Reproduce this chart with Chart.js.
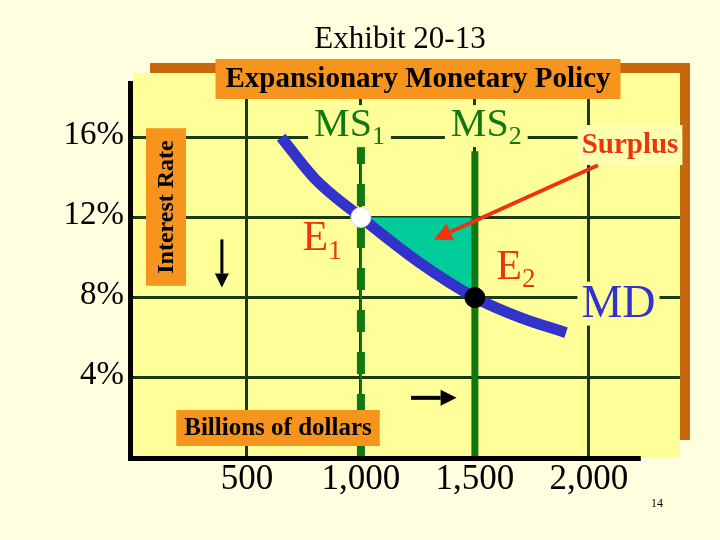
<!DOCTYPE html>
<html><head><meta charset="utf-8">
<script src="https://cdn.jsdelivr.net/npm/chart.js@4.4.0/dist/chart.umd.min.js"></script>
<style>html,body{margin:0;padding:0;background:#ffffe0}</style>
</head><body>
<canvas id="c" width="720" height="540" style="width:720px;height:540px"></canvas>
<script>
// values
const xTicks = [500, 1000, 1500, 2000];
const xTickLabels = ['500', '1,000', '1,500', '2,000'];
const yTicks = [4, 8, 12, 16];
const yTickLabels = ['4%', '8%', '12%', '16%'];
const mdX = [650, 800, 1000, 1250, 1500, 1700, 1900];
const mdY = [16, 13.9, 12, 9.8, 8, 7, 6.25];
const ms1X = [1000, 1000];
const ms1Y = [0, 15.6];
const ms2X = [1500, 1500];
const ms2Y = [0, 15.3];
const surplusX = [1000, 1500, 1500, 1250, 1000];
const surplusY = [12, 12, 8, 9.8, 12];
const e1 = {x: 1000, y: 12};
const e2 = {x: 1500, y: 8};

const pts = (xs, ys) => xs.map((x, i) => ({x: x, y: ys[i]}));
const serif = '"Liberation Serif", "DejaVu Serif", serif';

function subText(ctx, main, sub, x, y, size, color, bg) {
    ctx.font = size + 'px ' + serif;
    const w1 = ctx.measureText(main).width;
    ctx.font = Math.round(size * 0.65) + 'px ' + serif;
    const w2 = ctx.measureText(sub).width;
    const w = w1 + w2;
    if (bg) {
        ctx.fillStyle = bg;
        ctx.fillRect(x - w / 2 - 6, y - size * 0.5, w + 12, size * 1.05);
    }
    ctx.fillStyle = color;
    ctx.textAlign = 'left';
    ctx.textBaseline = 'middle';
    ctx.font = size + 'px ' + serif;
    ctx.fillText(main, x - w / 2, y);
    ctx.font = Math.round(size * 0.65) + 'px ' + serif;
    ctx.fillText(sub, x - w / 2 + w1, y + size * 0.3);
}

function arrow(ctx, x1, y1, x2, y2, color, lw, head) {
    const a = Math.atan2(y2 - y1, x2 - x1);
    ctx.strokeStyle = color; ctx.fillStyle = color; ctx.lineWidth = lw;
    ctx.beginPath();
    ctx.moveTo(x1, y1);
    ctx.lineTo(x2 - Math.cos(a) * head, y2 - Math.sin(a) * head);
    ctx.stroke();
    ctx.beginPath();
    ctx.moveTo(x2, y2);
    ctx.lineTo(x2 - Math.cos(a) * head + Math.sin(a) * head * 0.5, y2 - Math.sin(a) * head - Math.cos(a) * head * 0.5);
    ctx.lineTo(x2 - Math.cos(a) * head - Math.sin(a) * head * 0.5, y2 - Math.sin(a) * head + Math.cos(a) * head * 0.5);
    ctx.closePath();
    ctx.fill();
}

function boxText(ctx, text, x, y, font, color, bg, padX, h) {
    ctx.font = font;
    const w = ctx.measureText(text).width;
    ctx.fillStyle = bg;
    ctx.fillRect(x - w / 2 - padX, y - h / 2, w + padX * 2, h);
    ctx.fillStyle = color;
    ctx.textAlign = 'center';
    ctx.textBaseline = 'middle';
    ctx.fillText(text, x, y + 1);
}

const slide = {
    id: 'slide',
    beforeDraw(chart) {
        const ctx = chart.ctx, a = chart.chartArea;
        ctx.save();
        ctx.fillStyle = '#ffffe0';
        ctx.fillRect(0, 0, chart.width, chart.height);
        ctx.fillStyle = '#c8680c';
        ctx.fillRect(150, a.top - 10, a.right - 140, a.bottom - a.top - 8);
        ctx.fillStyle = '#ffff99';
        ctx.fillRect(a.left, a.top, a.right - a.left, a.bottom - a.top);
        ctx.restore();
    },
    afterDraw(chart) {
        const ctx = chart.ctx, a = chart.chartArea;
        const xs = chart.scales.x, ys = chart.scales.y;
        const X = v => xs.getPixelForValue(v), Y = v => ys.getPixelForValue(v);
        ctx.save();
        // axes
        ctx.fillStyle = '#000';
        ctx.fillRect(a.left - 5, a.top + 8, 5, a.bottom - a.top - 5);
        ctx.fillRect(a.left - 5, a.bottom - 2, X(2250) - a.left, 5);
        // title
        ctx.fillStyle = '#000';
        ctx.textAlign = 'center'; ctx.textBaseline = 'middle';
        ctx.font = '31px ' + serif;
        ctx.fillText('Exhibit 20-13', 400, 40);
        boxText(ctx, 'Expansionary Monetary Policy', 418, 79, 'bold 29px ' + serif, '#000', '#f7941d', 10, 40);
        boxText(ctx, 'Billions of dollars', 278, 428, 'bold 25px ' + serif, '#000', '#f7941d', 8, 36);
        // interest rate vertical
        ctx.save();
        ctx.translate(166, 207);
        ctx.rotate(-Math.PI / 2);
        boxText(ctx, 'Interest Rate', 0, 0, 'bold 24px ' + serif, '#000', '#f7941d', 12, 40);
        ctx.restore();
        // tick labels
        ctx.font = '33px ' + serif;
        ctx.fillStyle = '#000';
        ctx.textAlign = 'right'; ctx.textBaseline = 'middle';
        yTicks.forEach((v, i) => ctx.fillText(yTickLabels[i], 124, Y(v) - 2));
        ctx.textAlign = 'center'; ctx.textBaseline = 'top';
        ctx.font = '35px ' + serif;
        xTicks.forEach((v, i) => ctx.fillText(xTickLabels[i], X(v), a.bottom + 4));
        ctx.font = '12px ' + serif;
        ctx.fillText('14', 657, 498);
        // curve labels
        subText(ctx, 'MS', '1', X(950), Y(16.6), 40, '#117711', '#ffff99');
        subText(ctx, 'MS', '2', X(1550), Y(16.6), 40, '#117711', '#ffff99');
        boxText(ctx, 'Surplus', 630, 145, 'bold 29px ' + serif, '#ee3311', '#ffffb0', 4, 40);
        subText(ctx, 'E', '1', X(830), Y(10.9), 42, '#ee3311');
        subText(ctx, 'E', '2', X(1680), Y(9.5), 42, '#ee3311');
        boxText(ctx, 'MD', X(2130), Y(7.7), '46px ' + serif, '#3333cc', '#ffff99', 4, 44);
        // arrows
        arrow(ctx, X(390), Y(10.9), X(390), Y(8.5), '#000', 3, 14);
        arrow(ctx, X(1220), Y(3.0), X(1420), Y(3.0), '#000', 4, 16);
        arrow(ctx, X(2040), Y(14.6), X(1320), Y(10.9), '#ee3311', 4, 18);
        ctx.restore();
    }
};

new Chart(document.getElementById('c'), {
    type: 'scatter',
    data: {
        datasets: [
            {order: 6, data: pts(surplusX, surplusY), showLine: true, fill: 'shape', backgroundColor: '#00cc99', borderWidth: 0, pointRadius: 0},
            {order: 5, data: pts(ms1X, ms1Y), showLine: true, borderColor: '#117711', borderWidth: 2, pointRadius: 0},
            {order: 4, data: pts(ms1X, ms1Y), showLine: true, borderColor: '#117711', borderWidth: 8, borderDash: [22, 20], pointRadius: 0},
            {order: 3, data: pts(ms2X, ms2Y), showLine: true, borderColor: '#117711', borderWidth: 7, pointRadius: 0},
            {order: 2, data: pts(mdX, mdY), showLine: true, borderColor: '#3333cc', borderWidth: 11, tension: 0.4, cubicInterpolationMode: 'monotone', pointRadius: 0, borderCapStyle: 'butt'},
            {order: 1, data: [e1], pointRadius: 10, backgroundColor: '#ffffff', borderColor: '#dddddd', borderWidth: 1},
            {order: 0, data: [e2], pointRadius: 10, backgroundColor: '#000000', borderColor: '#000000', borderWidth: 1}
        ]
    },
    options: {
        responsive: false,
        animation: false,
        layout: {padding: {left: 133, right: 40, top: 73, bottom: 82}},
        plugins: {legend: {display: false}, tooltip: {enabled: false}},
        scales: {
            x: {
                type: 'linear', min: 0, max: 2400,
                afterBuildTicks: s => { s.ticks = xTicks.map(v => ({value: v})); },
                ticks: {display: false},
                border: {display: false},
                grid: {color: '#1a3a10', lineWidth: 3, drawTicks: false}
            },
            y: {
                type: 'linear', min: 0, max: 19.2,
                afterBuildTicks: s => { s.ticks = yTicks.map(v => ({value: v})); },
                ticks: {display: false},
                border: {display: false},
                grid: {color: '#1a3a10', lineWidth: 3, drawTicks: false}
            }
        }
    },
    plugins: [slide]
});
</script>
</body></html>
